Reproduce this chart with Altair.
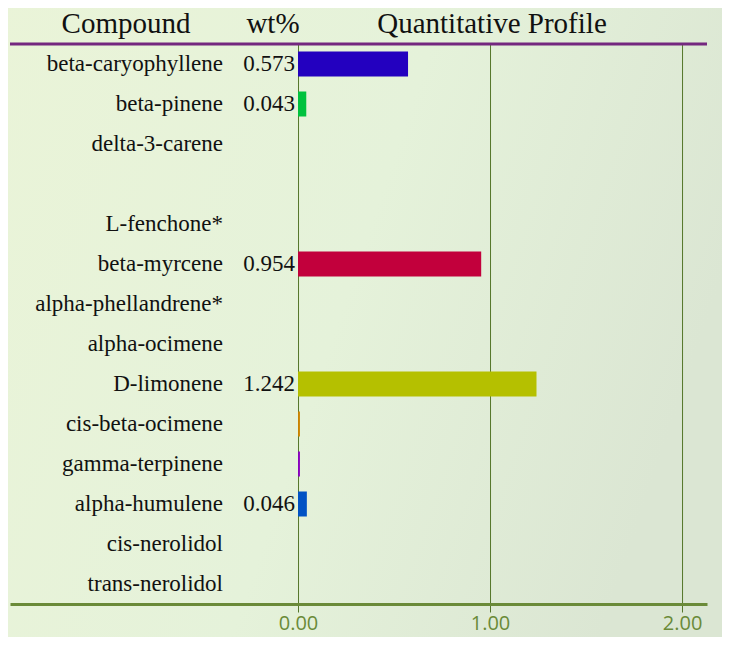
import altair as alt
import pandas as pd

compounds = ["beta-caryophyllene", "beta-pinene", "delta-3-carene", "", "L-fenchone*",
             "beta-myrcene", "alpha-phellandrene*", "alpha-ocimene", "D-limonene",
             "cis-beta-ocimene", "gamma-terpinene", "alpha-humulene", "cis-nerolidol",
             "trans-nerolidol"]
wt = [0.573, 0.043, None, None, None, 0.954, None, None, 1.242, 0.010, 0.010, 0.046, None, None]
wt_labels = ["0.573", "0.043", "", "", "", "0.954", "", "", "1.242", "", "", "0.046", "", ""]
colors = ["#2300bf", "#00c23e", "#999999", "#999999", "#999999", "#c2003c", "#999999",
          "#999999", "#b5c000", "#cc8400", "#8a00bf", "#0052c4", "#999999", "#999999"]
headers = ["Compound", "wt%", "Quantitative Profile"]
ticks = [0, 1, 2]

df = pd.DataFrame({"idx": list(range(len(compounds))), "name": compounds,
                   "wt": wt, "lab": wt_labels, "col": colors})
tdf = pd.DataFrame({"t": ticks})

W, H = 697, 560
SERIF = "Liberation Serif, Times New Roman, serif"
xscale = alt.Scale(domain=[-1.5, 2.13], nice=False, zero=False)
yscale = alt.Scale(domain=list(range(len(compounds))), paddingInner=0.375, paddingOuter=0.1875)
olive = "#6a8a38"

base = alt.Chart(df)

bg = alt.Chart(alt.Data(values=[{}])).mark_rect(
    fill={"gradient": "linear", "x1": 0, "y1": 0, "x2": 1, "y2": 0.3,
          "stops": [{"offset": 0, "color": "#eaf4d8"}, {"offset": 0.55, "color": "#e5f2da"},
                    {"offset": 1, "color": "#dbe6d3"}]},
    clip=False
).encode(x=alt.value(-14), x2=alt.value(740), y=alt.value(-50), y2=alt.value(H + 60))

grid = alt.Chart(tdf).mark_rule(color="#55762a", strokeWidth=1, xOffset=0.5).encode(
    x=alt.X("t:Q", scale=xscale,
            axis=alt.Axis(values=ticks, format=".2f", title=None, grid=False, zindex=1,
                          domainColor=olive, domainWidth=3, tickColor="#55762a",
                          tickSize=8, tickWidth=1, labelColor=olive,
                          labelFont="Open Sans", labelFontSize=20, labelPadding=1)),
    y=alt.value(0), y2=alt.value(H))

bars = base.transform_filter("datum.wt != null").mark_bar().encode(
    x=alt.X("wt:Q", scale=xscale),
    x2=alt.datum(0),
    y=alt.Y("idx:O", scale=yscale, axis=None),
    color=alt.Color("col:N", scale=None),
)

names = base.mark_text(align="right", baseline="middle", font=SERIF,
                       fontSize=23, color="#111111").encode(
    x=alt.value(213), y=alt.Y("idx:O", scale=yscale, axis=None), text="name:N")

labs = base.mark_text(align="right", baseline="middle", font=SERIF,
                      fontSize=23, color="#111111").encode(
    x=alt.value(285), y=alt.Y("idx:O", scale=yscale, axis=None), text="lab:N")

hdf = pd.DataFrame({"h": headers, "px": [116, 263, 482]})
head = alt.Chart(hdf).mark_text(align="center", baseline="alphabetic", font=SERIF,
                                fontSize=29, color="#111111", clip=False).encode(
    x=alt.X("px:Q", scale=None), y=alt.value(-11), text="h:N")

top_rule = alt.Chart(alt.Data(values=[{}])).mark_rule(color="#74277f", strokeWidth=3).encode(
    x=alt.value(0), x2=alt.value(W), y=alt.value(0))

chart = alt.layer(bg, grid, bars, names, labs, head, top_rule).properties(
    width=W, height=H, background="#e4f0d9",
    autosize=alt.AutoSizeParams(type="none"),
    padding={"left": 2, "top": 36, "right": 15, "bottom": 33},
).configure_view(stroke=None)

chart.save("out.html", embed_options={"renderer": "svg", "actions": False})
